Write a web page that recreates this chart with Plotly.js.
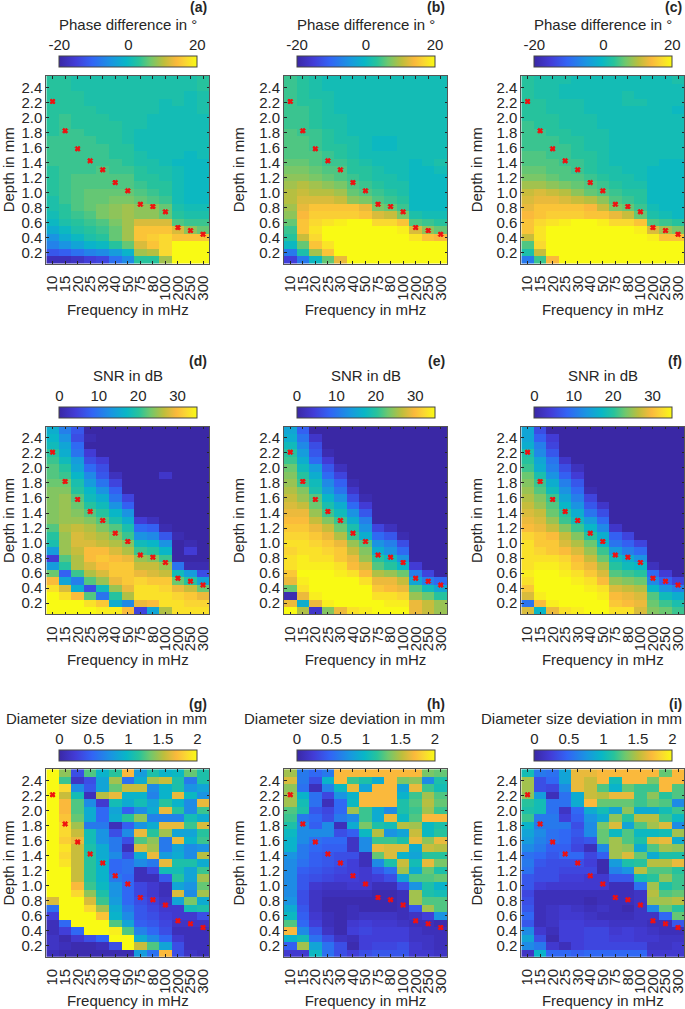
<!DOCTYPE html>
<html><head><meta charset="utf-8">
<script src="https://cdn.plot.ly/plotly-3.0.1.min.js"></script>
<style>html,body{margin:0;padding:0;background:#fff}</style></head>
<body><div id="chart" style="width:685px;height:1009px"></div>
<script>
const frequencies=['10','15','20','25','30','40','50','75','80','100','200','250','300'];
const depths=[2.5,2.4,2.3,2.2,2.1,2.0,1.9,1.8,1.7,1.6,1.5,1.4,1.3,1.2,1.1,1.0,0.9,0.8,0.7,0.6,0.5,0.4,0.3,0.2,0.1];
const markerDepths=[2.21,1.82,1.58,1.42,1.30,1.13,1.02,0.84,0.81,0.74,0.53,0.49,0.44];
const phaseA=[
[3,3,2,2,2,2,2,2,2,2,2,2,3],
[3,3,2,2,2,2,2,2,2,2,2,2,3],
[3,3,3,2,2,2,2,2,2,2,2,1,2],
[3,3,3,2,2,2,2,2,2,1,2,1,2],
[3,3,3,3,2,2,2,2,2,1,1,1,2],
[3,4,3,3,3,2,2,2,1,1,1,1,1],
[3,4,3,3,3,3,2,2,1,1,1,1,1],
[3,4,4,3,3,3,2,1,1,1,1,1,1],
[4,4,4,4,3,3,2,1,1,1,1,1,1],
[4,4,4,4,4,3,3,1,1,1,1,1,1],
[4,4,4,4,4,3,3,2,1,1,1,0,1],
[4,4,4,4,4,4,3,2,2,1,0,0,0],
[3,4,4,4,5,4,4,3,2,2,1,0,0],
[3,4,5,5,5,5,5,3,3,2,1,0,0],
[3,4,5,5,5,5,5,4,3,3,1,0,0],
[3,4,5,6,6,6,6,5,4,3,1,0,0],
[2,4,5,6,6,7,7,6,5,4,1,0,0],
[2,3,5,6,7,8,9,8,8,6,2,1,1],
[1,3,4,5,7,8,9,8,8,6,3,2,2],
[0,2,3,4,5,7,9,12,12,12,5,4,4],
[-2,0,2,3,4,6,9,15,15,15,12,8,6],
[-5,-2,0,2,3,6,9,15,16,17,15,15,15],
[-7,-5,-3,-1,0,3,6,12,15,17,20,20,20],
[-12,-11,-9,-7,-6,-4,-1,9,10,17,20,20,20],
[-18,-18,-17,-15,-14,-9,-6,3,3,9,20,20,20]];
const phaseB=[
[4,3,2,1,1,1,1,1,1,1,1,1,1],
[4,3,2,1,1,1,1,1,1,1,1,1,1],
[4,3,2,2,1,1,1,1,1,1,1,1,1],
[4,3,3,2,1,1,1,1,1,1,1,1,1],
[4,4,3,2,1,1,1,1,1,1,1,1,1],
[4,4,3,2,2,1,1,1,1,1,1,1,1],
[4,4,3,2,2,1,1,1,1,1,1,1,1],
[5,4,4,3,2,1,1,1,1,1,1,1,1],
[5,5,4,3,2,2,1,0,0,1,1,1,1],
[5,5,4,3,3,2,1,0,0,1,1,1,1],
[5,5,5,4,3,2,1,1,1,1,1,1,1],
[6,6,5,4,4,3,2,1,1,1,0,1,2],
[7,7,6,5,5,3,3,2,1,1,0,0,1],
[8,8,7,6,5,4,3,2,2,1,0,0,0],
[9,10,9,8,7,5,4,3,2,2,0,0,0],
[10,11,10,10,9,6,5,4,3,2,0,0,0],
[10,12,12,12,11,8,7,5,4,3,0,0,0],
[9,13,15,15,15,15,13,7,6,4,0,0,0],
[8,14,16,16,16,16,15,12,11,7,2,1,1],
[6,15,17,18,19,20,20,17,17,15,5,4,3],
[4,15,18,20,20,20,20,20,20,19,12,8,6],
[3,11,17,20,20,20,20,20,20,20,18,15,14],
[0,6,15,18,20,20,20,20,20,20,20,20,20],
[-8,2,9,15,20,20,20,20,20,20,20,20,20],
[-15,-8,0,6,13,20,20,20,20,20,20,20,20]];
const phaseC=[
[3,2,2,2,1,1,1,1,1,1,1,1,2],
[3,2,2,1,1,1,1,1,1,1,1,1,1],
[3,2,2,1,1,1,1,1,2,1,1,1,1],
[3,3,2,2,2,1,1,1,2,2,1,1,1],
[3,3,2,2,2,1,1,1,1,1,1,1,0],
[3,3,3,2,2,2,1,1,1,1,1,1,1],
[4,3,3,2,2,2,1,1,1,1,1,1,1],
[4,4,3,3,2,2,2,1,1,1,1,1,1],
[4,4,4,3,3,2,2,1,1,1,1,1,1],
[4,4,4,4,3,2,2,1,1,1,1,1,1],
[5,5,4,4,3,3,2,1,1,1,1,1,1],
[5,5,5,4,4,3,2,1,1,1,1,0,0],
[6,6,5,5,4,3,2,2,1,1,0,0,0],
[7,7,6,5,5,4,3,2,2,1,0,0,0],
[9,9,8,7,6,5,4,3,2,2,0,0,0],
[11,12,11,10,8,6,5,4,3,3,0,0,0],
[12,13,13,12,11,10,8,5,4,3,0,0,0],
[13,15,15,15,15,14,11,7,6,4,1,0,0],
[14,15,16,16,16,15,15,13,11,6,2,1,0],
[15,17,18,19,20,20,19,17,17,15,5,4,3],
[15,18,20,20,20,20,20,20,20,19,12,9,7],
[11,18,20,20,20,20,20,20,20,20,19,15,15],
[5,17,20,20,20,20,20,20,20,20,20,20,20],
[2,11,20,20,20,20,20,20,20,20,20,20,20],
[-8,4,14,20,20,20,20,20,20,20,20,20,20]];
const snrD=[
[16,11,7,0,0,0,0,0,0,0,0,0,0],
[17,13,6,1,0,0,0,0,0,0,0,0,0],
[18,15,9,0,0,0,0,0,0,0,0,0,0],
[20,16,10,4,0,0,0,0,0,0,0,0,0],
[21,18,14,6,4,0,0,0,0,0,0,0,0],
[22,20,15,9,6,0,0,0,0,0,0,0,0],
[22,21,17,12,7,2,0,0,0,3,0,0,0],
[23,23,19,14,10,5,0,0,0,0,0,0,0],
[24,24,20,17,13,8,0,0,0,0,0,0,0],
[24,25,22,18,16,10,5,0,0,0,0,0,0],
[24,25,23,20,18,13,8,0,0,0,0,0,0],
[24,25,24,22,20,17,13,0,0,0,0,0,0],
[24,25,25,24,22,19,16,4,2,0,0,0,0],
[22,26,27,26,24,22,19,9,8,1,0,0,0],
[20,25,28,27,26,24,21,13,12,7,1,0,0],
[19,25,28,28,27,26,24,18,17,13,0,1,0],
[14,25,27,30,30,28,26,21,20,17,0,4,0],
[4,22,26,30,31,30,29,25,24,21,0,0,0],
[14,20,26,28,30,31,31,27,27,25,10,1,1],
[23,8,21,26,28,31,31,29,28,27,18,14,6],
[30,15,11,22,25,29,31,32,31,31,23,20,15],
[33,28,16,6,18,25,29,33,33,32,29,27,23],
[35,33,30,22,10,20,26,33,33,33,32,31,29],
[35,35,35,33,31,16,12,29,30,33,33,32,32],
[35,35,35,35,34,34,30,5,15,26,33,33,33]];
const snrE=[
[15,8,0,0,0,0,0,0,0,0,0,0,0],
[16,10,3,0,0,0,0,0,0,0,0,0,0],
[18,12,6,0,0,0,0,0,0,0,0,0,0],
[20,14,7,1,0,0,0,0,0,0,0,0,0],
[21,16,9,4,0,0,0,0,0,0,0,0,0],
[23,18,14,7,2,0,0,0,0,0,0,0,0],
[24,20,16,9,5,0,0,0,0,0,0,0,0],
[25,21,18,12,8,1,0,0,0,0,0,0,0],
[26,24,19,14,10,3,0,0,0,0,0,0,0],
[27,25,22,17,13,6,1,0,0,0,0,0,0],
[28,27,23,19,16,9,4,0,0,0,0,0,0],
[29,29,25,21,18,13,7,0,0,0,0,0,0],
[30,30,27,24,21,16,11,0,0,0,0,0,0],
[31,31,29,27,23,19,13,5,2,0,0,0,0],
[32,32,31,29,26,21,16,9,7,1,0,0,0],
[33,33,32,31,29,25,22,13,11,6,0,0,0],
[32,33,33,32,31,27,24,16,13,9,0,0,0],
[33,34,33,33,31,29,25,20,18,13,0,0,0],
[33,34,34,34,33,30,28,22,20,17,4,0,0],
[31,35,35,35,34,33,30,26,25,23,11,5,0],
[29,34,35,35,35,35,33,29,29,27,15,11,9],
[23,33,35,35,35,35,35,31,30,29,22,18,15],
[1,29,34,35,35,35,35,33,33,32,25,23,20],
[29,16,29,34,35,35,35,35,34,34,29,27,25],
[35,26,3,24,29,33,34,35,35,35,29,27,25]];
const snrF=[
[15,6,0,0,0,0,0,0,0,0,0,0,0],
[15,8,4,0,0,0,0,0,0,0,0,0,0],
[16,11,5,0,0,0,0,0,0,0,0,0,0],
[19,12,7,0,0,0,0,0,0,0,0,0,0],
[20,15,10,3,0,0,0,0,0,0,0,0,0],
[21,16,11,6,2,0,0,0,0,0,0,0,0],
[23,19,13,8,4,0,0,0,0,0,0,0,0],
[24,21,16,11,7,0,0,0,0,0,0,0,0],
[25,22,18,13,9,1,0,0,0,0,0,0,0],
[26,24,21,15,11,5,0,0,0,0,0,0,0],
[27,25,22,17,13,7,3,0,0,0,0,0,0],
[28,27,23,20,16,10,6,0,0,0,0,0,0],
[29,28,25,21,18,14,9,0,0,0,0,0,0],
[30,29,27,24,21,17,12,3,0,0,0,0,0],
[32,31,30,27,24,20,16,8,5,0,0,0,0],
[33,31,31,28,26,23,17,10,8,5,0,0,0],
[33,32,31,30,28,25,21,14,11,9,0,0,0],
[33,33,33,32,30,27,23,18,16,13,0,0,0],
[33,34,34,33,31,29,26,20,18,17,2,0,0],
[34,35,35,34,33,31,28,22,21,20,9,4,0],
[33,35,35,35,34,33,30,25,24,23,12,8,5],
[31,35,35,35,35,34,33,28,27,26,17,13,11],
[28,34,35,35,35,35,34,30,29,28,22,18,16],
[10,30,34,35,35,35,35,31,30,29,23,21,19],
[28,17,29,33,34,35,35,33,33,28,24,23,21]];
const diamG=[
[2,1.4,.35,1.25,.95,1.15,1.7,.8,1.1,.95,1,1.3,1.1],
[2,1.2,.15,.35,.85,1.45,.55,.9,1.45,1.55,1.1,.6,1.1],
[2,1.85,.7,.4,.85,1.3,1.55,1.55,.7,.95,1.1,.75,.85],
[2,1.55,1.05,.1,1.5,1.65,.95,.95,.65,.95,1.65,1,.75],
[2,1.7,1.25,.7,.2,1.05,.9,1.05,.85,1.15,.95,.7,1.65],
[2,1.7,1.25,.9,.5,.85,.45,.7,.9,1.65,1.15,.7,1.2],
[2,1.75,1.3,.9,.5,.9,1.15,1.4,.65,.65,.65,1.05,.9],
[2,1.85,1.45,.6,.6,.1,.45,.75,.9,1.65,1.65,1.2,1.6],
[2,1.85,1.55,1.05,.75,.35,.7,1.65,1.15,1.45,.85,.85,1.15],
[2,1.8,1.65,1.05,.75,.6,.35,1.25,1.4,.6,1.65,.95,1.2],
[2,1.9,1.55,1.1,.9,.6,.1,1.6,1.45,.6,.85,.7,.75],
[2,1.85,1.55,1.15,.9,.7,.35,.9,1.65,.8,.9,.7,1.5],
[2,1.9,1.55,1.15,.95,.5,.55,.7,.6,1.65,1.1,1.1,.9],
[2,2,1.55,1.15,.95,.5,.55,.1,.3,1.05,1.05,.85,1.2],
[2,2,1.55,1.15,.95,.6,.5,.1,.1,.4,1.15,.85,1.45],
[2,2,1.7,1.2,1,.75,.5,.3,.2,.1,.85,.75,1.3],
[2,2,1.85,1.4,1.1,.75,.5,.3,.2,.1,1.6,.7,1.45],
[1.6,2,2,1.6,1.2,.8,.5,.35,.25,.15,.85,1.35,.9],
[.55,2,2,1.85,1.45,.9,.6,.4,.3,.2,.2,1.05,1.1],
[.25,2,2,2,1.75,.95,.7,.4,.35,.25,.2,.2,.35],
[.1,.5,2,2,2,1.25,.85,.45,.4,.3,.15,.15,.15],
[.1,.25,.5,2,2,1.95,1.25,.65,.5,.35,.1,.1,.1],
[.15,.05,.2,.35,.5,2,2,.9,.7,.5,.2,.1,.1],
[.15,.1,.05,.05,.1,.35,2,1.55,1.25,.85,.35,.1,.1],
[.1,.05,.05,.05,.05,.05,.05,.8,.55,1.7,.35,.15,.1]];
const diamH=[
[1.45,.6,.5,.6,1.7,1.7,1.7,1.7,1.7,1.7,1.7,1.35,1.3],
[1.6,.6,.35,.95,1.7,1.2,1.1,.9,1.7,1.35,1.4,.7,1.1],
[1.4,.55,.1,.65,1,1.65,.85,1.7,1.7,.85,1.65,1.2,1.05],
[1.45,.95,.55,.3,.75,.95,1.7,1.7,1.7,.95,1.2,1.45,1.25],
[1.45,1.05,.55,.1,.5,1,1.7,1.7,1.7,1.1,1.25,1.5,1.3],
[1.25,1.1,.4,.3,.5,1.45,1.2,.9,.7,1.1,1.2,1.45,1.2],
[1.2,.6,.5,.35,.6,.7,1.2,.9,1.65,1,1.25,1.7,1.7],
[1.1,.7,.45,.7,.1,.9,1.35,1.1,1.05,1.5,1.45,1,1.1],
[1,.7,.7,.7,.35,.45,1,1.5,.75,.85,1.55,1,1.15],
[.95,.7,.55,.5,.5,.15,.7,1.2,1.2,1.1,1.65,1.4,1.65],
[.95,.6,.5,.45,.45,.15,.7,1.65,1.6,1.6,.9,1.55,1.5],
[.75,.6,.45,.4,.35,.35,.1,1.3,1.6,.95,.85,1.15,1.15],
[.7,.55,.45,.4,.35,.25,.1,.7,1.1,1.55,1.05,1.65,1.35],
[.7,.45,.4,.35,.3,.25,.2,.4,.55,1.45,.9,1.3,1.1],
[.7,.4,.35,.3,.25,.25,.2,.25,.35,.85,1.25,1.25,1.3],
[.7,.4,.2,.15,.15,.2,.2,.1,.1,.35,.75,1.1,.95],
[.7,.35,.15,.1,.1,.1,.1,.05,.05,.1,1.45,1.1,1.05],
[.75,.35,.15,.05,.05,.05,.05,.05,.05,.1,1.45,1.25,1.25],
[.9,.4,.15,.05,.05,.1,.05,.05,.05,.1,.4,1.45,1.25],
[1,.45,.2,.1,.05,.1,.15,.15,.15,.1,.15,.25,.75],
[1.25,.5,.25,.1,.05,.2,.25,.2,.2,.15,.1,.1,.05],
[1.7,.7,.4,.15,.05,.25,.3,.25,.25,.25,.15,.1,.1],
[.95,1.05,.55,.35,.15,.1,.25,.25,.25,.25,.15,.15,.1],
[.45,1.45,.85,.55,.35,.05,.25,.3,.3,.35,.2,.15,.1],
[.2,.2,1,.55,.35,.25,.35,.4,.4,.4,.2,.2,.15]];
const diamI=[
[1.05,.6,.55,.85,1.65,1.65,1.7,1.7,1.7,1.7,1.7,1.3,1.7],
[1.45,.35,.5,.85,1.65,1.55,1.7,1.05,1.7,1.7,1.35,1.7,1.7],
[1.45,.35,.3,.7,1.65,1.55,1.25,.95,1.3,1.2,1.2,1.7,1.25],
[1.4,.8,.1,.55,.9,1.55,1.5,1.65,1.65,1.2,1.4,1.15,1.25],
[1.15,1.05,.55,.55,.9,1.7,1.3,1.3,1.3,1.2,1.3,1.25,.7],
[1.1,1.05,.55,.15,.5,.9,1.05,.85,1.4,.9,.9,1.05,1.2],
[1.2,.6,.6,.25,.45,.75,.9,1.4,1.15,1.5,1.5,1.2,1],
[.95,.6,.6,.6,.35,.7,1.35,1.6,.85,1.25,1.45,1.6,.7],
[.85,.7,.55,.5,.4,.7,1.3,1,1.25,1,1,1.05,1.45],
[.8,.65,.55,.5,.35,.4,1.3,1.45,1.25,1.1,1.6,1.65,.9],
[.7,.6,.45,.45,.3,.1,.7,1.45,1.4,.9,1.25,1.45,1.4],
[.55,.5,.4,.5,.5,.3,.45,1.45,1.6,1.3,.9,1.1,1.1],
[.6,.4,.35,.35,.35,.25,.05,.8,1.1,1.15,1.5,1.5,1.65],
[.55,.35,.35,.3,.3,.3,.05,.65,.75,1.5,1.25,1.25,1.15],
[.4,.35,.35,.25,.25,.2,.2,.4,.4,1.05,1.15,1.4,1.2],
[.4,.25,.2,.2,.2,.2,.2,.1,.1,.55,1.45,1.1,1.2],
[.3,.1,.1,.1,.1,.1,.1,.1,.1,.15,1.5,1.25,1.3],
[.35,.1,.1,.1,.1,.05,.1,.1,.1,.15,1.45,1.45,1.5],
[.4,.1,.15,.2,.15,.1,.15,.1,.05,.15,.7,1.3,1.15],
[.5,.1,.15,.2,.2,.15,.1,.1,.1,.15,.15,.5,1.3],
[.4,.1,.15,.25,.25,.2,.2,.15,.15,.15,.1,.1,.4],
[.7,.2,.1,.25,.25,.3,.3,.2,.25,.2,.15,.1,.1],
[.85,.35,.05,.25,.25,.3,.3,.25,.25,.2,.2,.15,.15],
[.7,.6,.2,.1,.25,.3,.3,.3,.3,.3,.15,.15,.2],
[.15,.95,.5,.5,.45,.5,.5,.5,.5,.5,.2,.2,.2]];

const parula=[[0,'rgb(58,40,165)'],[.12,'rgb(66,60,215)'],[.24,'rgb(50,100,245)'],[.38,'rgb(25,150,225)'],[.49,'rgb(8,183,198)'],[.58,'rgb(40,195,155)'],[.66,'rgb(110,200,110)'],[.76,'rgb(190,190,60)'],[.85,'rgb(250,185,60)'],[.92,'rgb(250,215,50)'],[1,'rgb(249,250,20)']];

const W=685,H=1009,INK='#262626',FONT='"Liberation Sans",Arial,sans-serif';
const colLeft=[46.3,284,521.3],plotW=163,rowTop=[76,426.7,769.2],plotH=187.6;
const barH=11,barTop=[57,407.5,750.5],barInset=13,barW=138;
const labelTop=[7,361,704];
const panels=[
 {z:phaseA,t:'Phase difference in °',l:'(a)',r:0,c:0},{z:phaseB,t:'Phase difference in °',l:'(b)',r:0,c:1},{z:phaseC,t:'Phase difference in °',l:'(c)',r:0,c:2},
 {z:snrD,t:'SNR in dB',l:'(d)',r:1,c:0},{z:snrE,t:'SNR in dB',l:'(e)',r:1,c:1},{z:snrF,t:'SNR in dB',l:'(f)',r:1,c:2},
 {z:diamG,t:'Diameter size deviation in mm',l:'(g)',r:2,c:0},{z:diamH,t:'Diameter size deviation in mm',l:'(h)',r:2,c:1},{z:diamI,t:'Diameter size deviation in mm',l:'(i)',r:2,c:2}];
const scales=[{zmin:-20,zmax:20,tickvals:[-20,0,20],ticktext:['-20','0','20'],titleShift:0},{zmin:0,zmax:35,tickvals:[0,10,20,30],ticktext:['0','10','20','30'],titleShift:0},{zmin:0,zmax:2,tickvals:[0,.5,1,1.5,2],ticktext:['0','0.5','1','1.5','2'],titleShift:-22}];

const traces=[],layout={width:W,height:H,margin:{l:0,r:0,t:0,b:0},paper_bgcolor:'#fff',plot_bgcolor:'#fff',showlegend:false,annotations:[],font:{family:FONT,size:15,color:INK}};
panels.forEach((p,i)=>{
 const n=i?String(i+1):'',b=String(i+10),s=scales[p.r];
 const x0=colLeft[p.c],y0=rowTop[p.r],bx=x0+barInset,by=barTop[p.r];
 traces.push({type:'heatmap',x:frequencies,y:depths,z:p.z,xaxis:'x'+n,yaxis:'y'+n,zmin:s.zmin,zmax:s.zmax,colorscale:parula,zsmooth:false,
  colorbar:{orientation:'h',lenmode:'pixels',len:barW,thicknessmode:'pixels',thickness:barH,x:bx/W,xanchor:'left',xpad:0,
   y:1-(by+barH)/H,yanchor:'bottom',ypad:0,outlinecolor:'#444',outlinewidth:1,ticks:'',showticklabels:false}});
 traces.push({type:'scatter',mode:'markers',x:frequencies,y:markerDepths,xaxis:'x'+n,yaxis:'y'+n,marker:{symbol:'x',size:4.5,color:'#f01010',line:{width:1,color:'#f01010'}},hoverinfo:'skip'});
 traces.push({type:'scatter',mode:'markers',x:s.tickvals,y:s.tickvals.map(()=>0),xaxis:'x'+b,yaxis:'y'+b,marker:{size:1,opacity:0},hoverinfo:'skip'});
 layout['xaxis'+n]={type:'category',domain:[x0/W,(x0+plotW)/W],range:[-.5,12.5],anchor:'y'+n,dtick:1,tickangle:-90,ticks:'inside',ticklen:2.5,tickcolor:INK,ticklabelstandoff:5,
  mirror:'allticks',showline:true,linecolor:'#555',linewidth:1,showgrid:false,zeroline:false,tickfont:{size:15,color:INK,family:FONT},
  title:{text:'Frequency in mHz',font:{size:15,color:INK,family:FONT},standoff:2},automargin:false};
 layout['yaxis'+n]={domain:[1-(y0+plotH)/H,1-y0/H],range:[.05,2.55],anchor:'x'+n,tick0:.2,dtick:.2,tickformat:'.1f',ticks:'inside',ticklen:2.5,tickcolor:INK,
  mirror:'allticks',showline:true,linecolor:'#555',linewidth:1,showgrid:false,zeroline:false,tickfont:{size:15,color:INK,family:FONT},
  title:{text:'Depth in mm',font:{size:15,color:INK,family:FONT},standoff:10},automargin:false};
 layout['xaxis'+b]={visible:true,domain:[bx/W,(bx+barW)/W],range:[s.zmin,s.zmax],anchor:'y'+b,side:'top',tickmode:'array',tickvals:s.tickvals,ticktext:s.ticktext,
  ticks:'',ticklabelstandoff:3,showticklabels:true,showline:false,showgrid:false,zeroline:false,tickfont:{size:15,color:INK,family:FONT},automargin:false};
 layout['yaxis'+b]={visible:true,domain:[1-(by+barH)/H,1-by/H],anchor:'x'+b,range:[-1,1],showticklabels:false,ticks:'',showline:false,showgrid:false,zeroline:false};
 layout.annotations.push({text:p.t,xref:'paper',yref:'paper',x:(bx+barW/2+s.titleShift)/W,y:1-(by-32)/H,xanchor:'center',yanchor:'middle',showarrow:false,font:{size:15,color:INK,family:FONT}});
 layout.annotations.push({text:'<b>'+p.l+'</b>',xref:'paper',yref:'paper',x:(x0+plotW)/W,y:1-labelTop[p.r]/H,xanchor:'right',yanchor:'middle',showarrow:false,font:{size:14,color:INK,family:FONT}});
});
Plotly.newPlot('chart',traces,layout,{displayModeBar:false,staticPlot:true});
</script></body></html>
